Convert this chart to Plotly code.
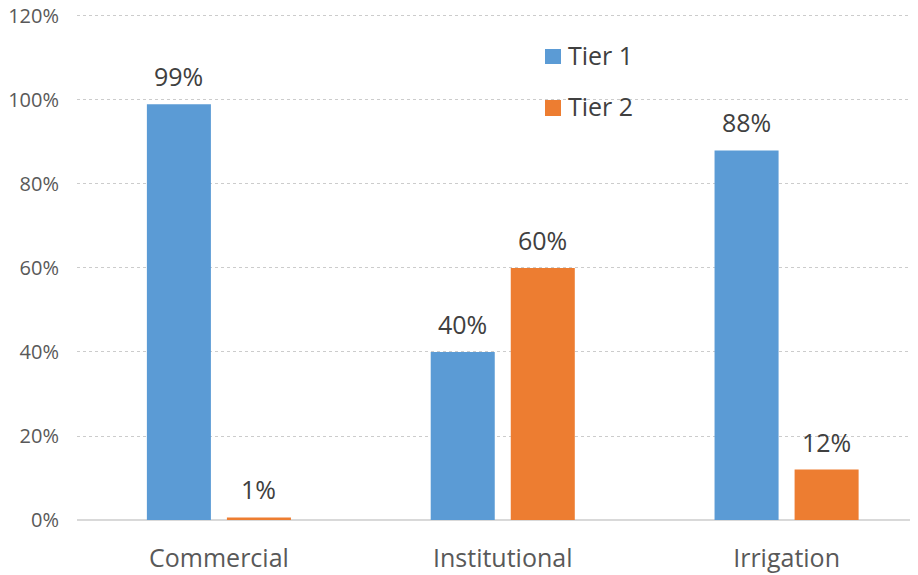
import plotly.graph_objects as go

categories = ["Commercial", "Institutional", "Irrigation"]
tier1 = [0.99, 0.40, 0.88]
tier2 = [0.006, 0.60, 0.12]
series_names = ["Tier 1", "Tier 2"]
colors = ["#5B9BD5", "#ED7D31"]
y_ticks = [0, 0.2, 0.4, 0.6, 0.8, 1.0, 1.2]
y_tick_labels = ["0%", "20%", "40%", "60%", "80%", "100%", "120%"]

FONT = "Open Sans"
fig = go.Figure()
for name, vals, col in zip(series_names, [tier1, tier2], colors):
    fig.add_trace(go.Bar(
        x=categories, y=vals, name=name, marker_color=col,
        marker_line_width=0, showlegend=False,
    ))

# value labels above each bar
for i, vals in enumerate([tier1, tier2]):
    for cat, v in zip(categories, vals):
        fig.add_annotation(
            x=cat, y=v, xref="x", yref="y", text=f"{v:.0%}", showarrow=False,
            xshift=(i - 0.5) * 80, yshift=28, yanchor="middle",
            font=dict(family=FONT, size=25, color="#404040"),
        )

# Legend drawn as paper shapes + text (plot area spans window y 8..520)
def py(yw):
    return (520 - yw) / 512

leg = [(49, 64, 55), (100, 116, 105.5)]
for (top, bot, yc), name, col in zip(leg, series_names, colors):
    fig.add_shape(type="rect", xref="paper", yref="paper",
                  x0=0.5565, x1=0.5755, y0=py(bot), y1=py(top),
                  fillcolor=col, line_width=0)
    fig.add_annotation(xref="paper", yref="paper", x=0.5810, y=py(yc),
                       text=name, showarrow=False, xanchor="left", yanchor="middle",
                       font=dict(family=FONT, size=25, color="#404040"))

fig.update_layout(
    width=910, height=567,
    margin=dict(l=69, r=0, t=0, b=55, autoexpand=False),
    paper_bgcolor="white", plot_bgcolor="white",
    barmode="group", bargap=0.436, bargroupgap=0.2,
    font=dict(family=FONT, color="#595959"),
)
fig.update_yaxes(
    range=[0, 1.219], tickmode="array", tickvals=y_ticks, ticktext=y_tick_labels,
    showgrid=True, gridcolor="#cccccc", griddash="dot", gridwidth=1,
    zeroline=True, zerolinecolor="#d9d9d9", zerolinewidth=2,
    ticks="", ticklabelstandoff=17, showline=False, ticklabeloverflow="allow",
    automargin=False,
    tickfont=dict(family=FONT, size=20, color="#595959"),
)
fig.update_xaxes(
    range=[-0.5, 2.463], showgrid=False, showline=False, ticks="",
    ticklabelstandoff=21, automargin=False,
    tickfont=dict(family=FONT, size=25, color="#595959"),
)
fig.write_html("out.html")
